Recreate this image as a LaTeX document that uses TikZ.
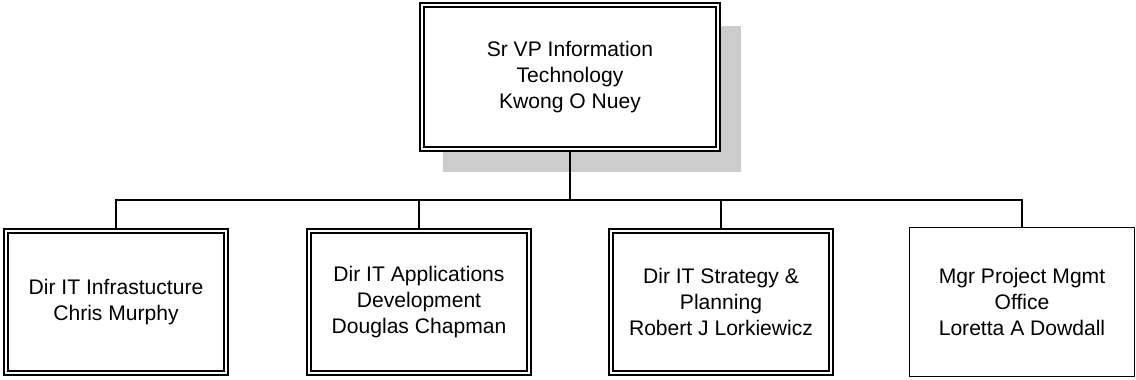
\documentclass[tikz,border=0pt]{standalone}
\usepackage{fontspec}
\setmainfont{Liberation Sans}
\begin{document}
\begin{tikzpicture}[x=0.02cm,y=0.02cm,
	box/.style={rectangle,align=center,font=\fontsize{12}{14.75}\selectfont,fill=white},
	dbox/.style={box,draw,line width=0.95pt,double,double distance=1.3pt},
	headbox/.style={dbox,minimum width=5.93cm,minimum height=2.89cm},
	dirbox/.style={dbox,minimum width=4.41cm,minimum height=2.85cm},
	mgrbox/.style={box,draw,line width=0.75pt,minimum width=4.5cm,minimum height=2.99cm},
	link/.style={line width=1.1pt}]
	\useasboundingbox (0,0) rectangle (1136,379);
	\node[headbox] (svp) at (570,302) {Sr VP Information\\Technology\\Kwong O Nuey};
	\fill[gray!40] ([shift={(22,-22)}]svp.south west) rectangle ([shift={(22,-22)}]svp.north east);
	\node[headbox] at (svp) {Sr VP Information\\Technology\\Kwong O Nuey};
	\node[dirbox] (infra) at (116,77) {Dir IT Infrastucture\\Chris Murphy};
	\node[dirbox] (apps) at (419,77) {Dir IT Applications\\Development\\Douglas Chapman};
	\node[dirbox] (plan) at (721,77) {Dir IT Strategy \&\\Planning\\Robert J Lorkiewicz};
	\node[mgrbox] (pmo) at (1022,77) {Mgr Project Mgmt\\Office\\Loretta A Dowdall};
	\coordinate (bus) at (570,179);
	\draw[link] (svp.south) -- (bus);
	\foreach \n in {infra,apps,plan,pmo}
		\draw[link] (bus) -| (\n.north);
\end{tikzpicture}
\end{document}
